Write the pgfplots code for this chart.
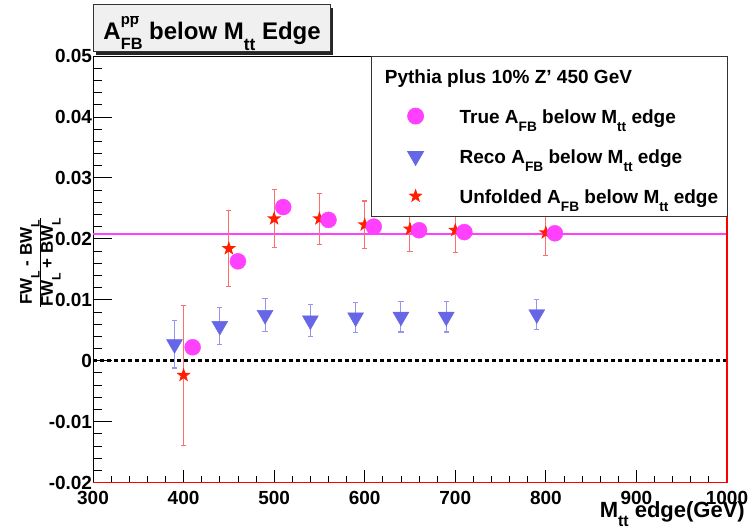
\documentclass[border=0pt]{standalone}
\usepackage{pgfplots}
\usepackage{pgfplotstable}
\pgfplotsset{compat=1.18}
\usepackage{fontspec}
\setmainfont{Liberation Sans}
\usetikzlibrary{plotmarks}
\definecolor{truec}{RGB}{255,64,255}
\definecolor{recoc}{RGB}{102,102,230}
\definecolor{recoe}{RGB}{150,150,240}
\definecolor{unfc}{RGB}{255,30,0}
\definecolor{unfe}{RGB}{255,110,110}
\newcommand\dn[1]{\raisebox{-0.45em}{\scalebox{0.72}{#1}}}
\pgfdeclareplotmark{fstar}{%
  \pgfpathmoveto{\pgfpointpolar{90}{\pgfplotmarksize}}%
  \pgfpathlineto{\pgfpointpolar{126}{0.4\pgfplotmarksize}}%
  \pgfpathlineto{\pgfpointpolar{162}{\pgfplotmarksize}}%
  \pgfpathlineto{\pgfpointpolar{198}{0.4\pgfplotmarksize}}%
  \pgfpathlineto{\pgfpointpolar{234}{\pgfplotmarksize}}%
  \pgfpathlineto{\pgfpointpolar{270}{0.4\pgfplotmarksize}}%
  \pgfpathlineto{\pgfpointpolar{306}{\pgfplotmarksize}}%
  \pgfpathlineto{\pgfpointpolar{342}{0.4\pgfplotmarksize}}%
  \pgfpathlineto{\pgfpointpolar{18}{\pgfplotmarksize}}%
  \pgfpathlineto{\pgfpointpolar{54}{0.4\pgfplotmarksize}}%
  \pgfpathclose\pgfusepathqfill}
\pgfdeclareplotmark{capbar}{%
  \pgfpathrectangle{\pgfpoint{-\pgfplotmarksize}{-0.55pt}}{\pgfpoint{2\pgfplotmarksize}{1.1pt}}%
  \pgfusepathqfill}

\pgfplotstableread{
x y e
390 0.0027 0.0039
440 0.0057 0.0030
490 0.0075 0.0027
540 0.0066 0.0026
590 0.0071 0.0025
640 0.0072 0.0025
690 0.0072 0.0025
790 0.0076 0.0025
}\recodata
\pgfplotstableread{
x y e
400 -0.0024 0.0115
450 0.0184 0.0062
500 0.0233 0.0048
550 0.0233 0.0042
600 0.0223 0.0039
650 0.0216 0.0037
700 0.0214 0.0036
800 0.0210 0.0037
}\unfdata
\pgfplotstableread{
x y
410 0.0022
460 0.0163
510 0.0252
560 0.0231
610 0.0220
660 0.0214
710 0.0211
810 0.0209
}\truedata

\begin{document}
\begin{tikzpicture}
\begin{axis}[
  at={(0pt,0pt)}, anchor=south west,
  scale only axis, width=634pt, height=426.5pt,
  xmin=300, xmax=1000, ymin=-0.02, ymax=0.05,
  clip=false,
  axis line style={black, line width=0.8pt},
  tick align=inside, xtick pos=bottom, ytick pos=left,
  xtick={300,400,500,600,700,800,900,1000},
  ytick={-0.02,-0.01,0,0.01,0.02,0.03,0.04,0.05},
  major tick length=0pt, minor tick length=0pt,
  scaled y ticks=false,
  /pgf/number format/assume math mode=true,
  ticklabel style={font=\fontsize{19}{19}\selectfont\bfseries},
  yticklabel style={/pgf/number format/fixed, /pgf/number format/precision=2, xshift=2.6pt},
  xticklabel style={/pgf/number format/1000 sep={}, yshift=-5pt},
  xlabel={M\dn{tt} edge(GeV)},
  xlabel style={at={(rel axis cs:1,0)}, anchor=base east, xshift=18pt, yshift=-34.5pt, inner sep=0pt, font=\fontsize{22}{22}\selectfont\bfseries},
  ylabel={\begin{tabular}{@{}c@{}}FW\dn{L} - BW\dn{L}\\\hline\rule{0pt}{13pt}FW\dn{L} + BW\dn{L}\end{tabular}},
  ylabel style={at={(rel axis cs:0,0.516)}, anchor=center, yshift=53pt, inner sep=0pt, font=\fontsize{17}{18}\selectfont\bfseries},
  legend style={at={(rel axis cs:1,1)}, anchor=north east, xshift=0.7pt, yshift=0.3pt,
    draw=black!80, line width=0.8pt, fill=white, inner xsep=0pt, inner ysep=0pt,
    row sep=0pt, column sep=0pt, font=\fontsize{19}{19}\selectfont\bfseries,
    nodes={inner sep=0pt, text height=27pt, text depth=13pt}},
  legend cell align=left,
  legend image code/.code={\path[draw=none,fill=none] (0pt,-20pt) rectangle (88pt,20pt); \draw[#1] plot coordinates {(44pt,0pt)};},
]
% inside ticks as short line segments
\addplot[forget plot, black, line width=0.8pt, unbounded coords=jump, mark=none] coordinates {
 (300,-0.02) (300,-0.017913) (300,nan) (400,-0.02) (400,-0.017913) (400,nan)
 (500,-0.02) (500,-0.017913) (500,nan) (600,-0.02) (600,-0.017913) (600,nan)
 (700,-0.02) (700,-0.017913) (700,nan) (800,-0.02) (800,-0.017913) (800,nan)
 (900,-0.02) (900,-0.017913) (900,nan)
 (320,-0.02) (320,-0.01895) (320,nan) (340,-0.02) (340,-0.01895) (340,nan)
 (360,-0.02) (360,-0.01895) (360,nan) (380,-0.02) (380,-0.01895) (380,nan)
 (420,-0.02) (420,-0.01895) (420,nan) (440,-0.02) (440,-0.01895) (440,nan)
 (460,-0.02) (460,-0.01895) (460,nan) (480,-0.02) (480,-0.01895) (480,nan)
 (520,-0.02) (520,-0.01895) (520,nan) (540,-0.02) (540,-0.01895) (540,nan)
 (560,-0.02) (560,-0.01895) (560,nan) (580,-0.02) (580,-0.01895) (580,nan)
 (620,-0.02) (620,-0.01895) (620,nan) (640,-0.02) (640,-0.01895) (640,nan)
 (660,-0.02) (660,-0.01895) (660,nan) (680,-0.02) (680,-0.01895) (680,nan)
 (720,-0.02) (720,-0.01895) (720,nan) (740,-0.02) (740,-0.01895) (740,nan)
 (760,-0.02) (760,-0.01895) (760,nan) (780,-0.02) (780,-0.01895) (780,nan)
 (820,-0.02) (820,-0.01895) (820,nan) (840,-0.02) (840,-0.01895) (840,nan)
 (860,-0.02) (860,-0.01895) (860,nan) (880,-0.02) (880,-0.01895) (880,nan)
 (920,-0.02) (920,-0.01895) (920,nan) (940,-0.02) (940,-0.01895) (940,nan)
 (960,-0.02) (960,-0.01895) (960,nan) (980,-0.02) (980,-0.01895) (980,nan)
};
\addplot[forget plot, black, line width=0.8pt, unbounded coords=jump, mark=none] coordinates {
 (300,-0.02) (320.97,-0.02) (nan,-0.02) (300,-0.01) (320.97,-0.01) (nan,-0.01)
 (300,0) (320.97,0) (nan,0) (300,0.01) (320.97,0.01) (nan,0.01)
 (300,0.02) (320.97,0.02) (nan,0.02) (300,0.03) (320.97,0.03) (nan,0.03)
 (300,0.04) (320.97,0.04) (nan,0.04) (300,0.05) (320.97,0.05) (nan,0.05)
 (300,-0.018) (310.49,-0.018) (nan,-0.018) (300,-0.016) (310.49,-0.016) (nan,-0.016)
 (300,-0.014) (310.49,-0.014) (nan,-0.014) (300,-0.012) (310.49,-0.012) (nan,-0.012)
 (300,-0.008) (310.49,-0.008) (nan,-0.008) (300,-0.006) (310.49,-0.006) (nan,-0.006)
 (300,-0.004) (310.49,-0.004) (nan,-0.004) (300,-0.002) (310.49,-0.002) (nan,-0.002)
 (300,0.002) (310.49,0.002) (nan,0.002) (300,0.004) (310.49,0.004) (nan,0.004)
 (300,0.006) (310.49,0.006) (nan,0.006) (300,0.008) (310.49,0.008) (nan,0.008)
 (300,0.012) (310.49,0.012) (nan,0.012) (300,0.014) (310.49,0.014) (nan,0.014)
 (300,0.016) (310.49,0.016) (nan,0.016) (300,0.018) (310.49,0.018) (nan,0.018)
 (300,0.022) (310.49,0.022) (nan,0.022) (300,0.024) (310.49,0.024) (nan,0.024)
 (300,0.026) (310.49,0.026) (nan,0.026) (300,0.028) (310.49,0.028) (nan,0.028)
 (300,0.032) (310.49,0.032) (nan,0.032) (300,0.034) (310.49,0.034) (nan,0.034)
 (300,0.036) (310.49,0.036) (nan,0.036) (300,0.038) (310.49,0.038) (nan,0.038)
 (300,0.042) (310.49,0.042) (nan,0.042) (300,0.044) (310.49,0.044) (nan,0.044)
 (300,0.046) (310.49,0.046) (nan,0.046) (300,0.048) (310.49,0.048)
};

\addplot[truec, line width=2pt, forget plot] coordinates {(300,0.0208) (1000,0.0208)};
\addplot[black, line width=2.6pt, dash pattern=on 4pt off 3pt, forget plot] coordinates {(300,0) (1000,0)};
\addplot[red, line width=1.2pt, forget plot] coordinates {(300,-0.02) (1000,-0.02) (1000,0.05)};

% error bar caps
\addplot[forget plot, only marks, mark=capbar, mark size=2.6pt, color=recoe, mark options={fill=recoe, draw=none}]
  table[x=x, y expr=\thisrow{y}+\thisrow{e}] {\recodata};
\addplot[forget plot, only marks, mark=capbar, mark size=2.6pt, color=recoe, mark options={fill=recoe, draw=none}]
  table[x=x, y expr=\thisrow{y}-\thisrow{e}] {\recodata};
\addplot[forget plot, only marks, mark=capbar, mark size=2.6pt, color=unfe, mark options={fill=unfe, draw=none}]
  table[x=x, y expr=\thisrow{y}+\thisrow{e}] {\unfdata};
\addplot[forget plot, only marks, mark=capbar, mark size=2.6pt, color=unfe, mark options={fill=unfe, draw=none}]
  table[x=x, y expr=\thisrow{y}-\thisrow{e}] {\unfdata};

% markers with error bars
\addplot[forget plot, only marks, mark=triangle*, mark size=9.2pt, color=recoc, mark options={rotate=180, fill=recoc, draw=recoc},
  error bars/.cd, y dir=both, y explicit, error bar style={recoe, line width=1pt}, error mark=none]
  table[x=x, y=y, y error=e] {\recodata};
\addplot[forget plot, only marks, mark=fstar, mark size=7.5pt, color=unfc, mark options={fill=unfc},
  error bars/.cd, y dir=both, y explicit, error bar style={unfe, line width=1pt}, error mark=none]
  table[x=x, y=y, y error=e] {\unfdata};
\addplot[forget plot, only marks, mark=*, mark size=8pt, color=truec, mark options={fill=truec, draw=truec}]
  table[x=x, y=y] {\truedata};

\addlegendimage{empty legend}
\addlegendentry{\makebox[267.7pt][l]{\hspace*{-74.7pt}Pythia plus 10\% Z' 450 GeV}}
\addlegendimage{only marks, mark=*, mark size=8pt, color=truec, mark options={fill=truec, draw=truec}}
\addlegendentry{\makebox[267.7pt][l]{True A\dn{FB} below M\dn{tt} edge}}
\addlegendimage{only marks, mark=triangle*, mark size=9.2pt, color=recoc, mark options={rotate=180, fill=recoc, draw=recoc}}
\addlegendentry{\makebox[267.7pt][l]{Reco A\dn{FB} below M\dn{tt} edge}}
\addlegendimage{only marks, mark=fstar, mark size=7.5pt, color=unfc, mark options={fill=unfc}}
\addlegendentry{\makebox[267.7pt][l]{Unfolded A\dn{FB} below M\dn{tt} edge}}
\end{axis}
\fill[black!85] (3pt,427.8pt) rectangle (240.4pt,474.5pt);
\node[draw=black!80, line width=0.8pt, fill=black!6, anchor=south west, inner ysep=0pt, inner xsep=0pt,
  minimum width=237.4pt, minimum height=46.7pt, text height=35pt, text depth=11.7pt,
  font=\fontsize{24}{24}\selectfont\bfseries] at (0pt,430.8pt)
  {A\rlap{\raisebox{0.62em}{\scalebox{0.62}{p$\overline{\hbox{p}}$}}}\raisebox{-0.42em}{\scalebox{0.68}{FB}} below M\dn{tt} Edge};
\path (-93pt,-45.5pt) rectangle (659pt,482.5pt);
\end{tikzpicture}
\end{document}
